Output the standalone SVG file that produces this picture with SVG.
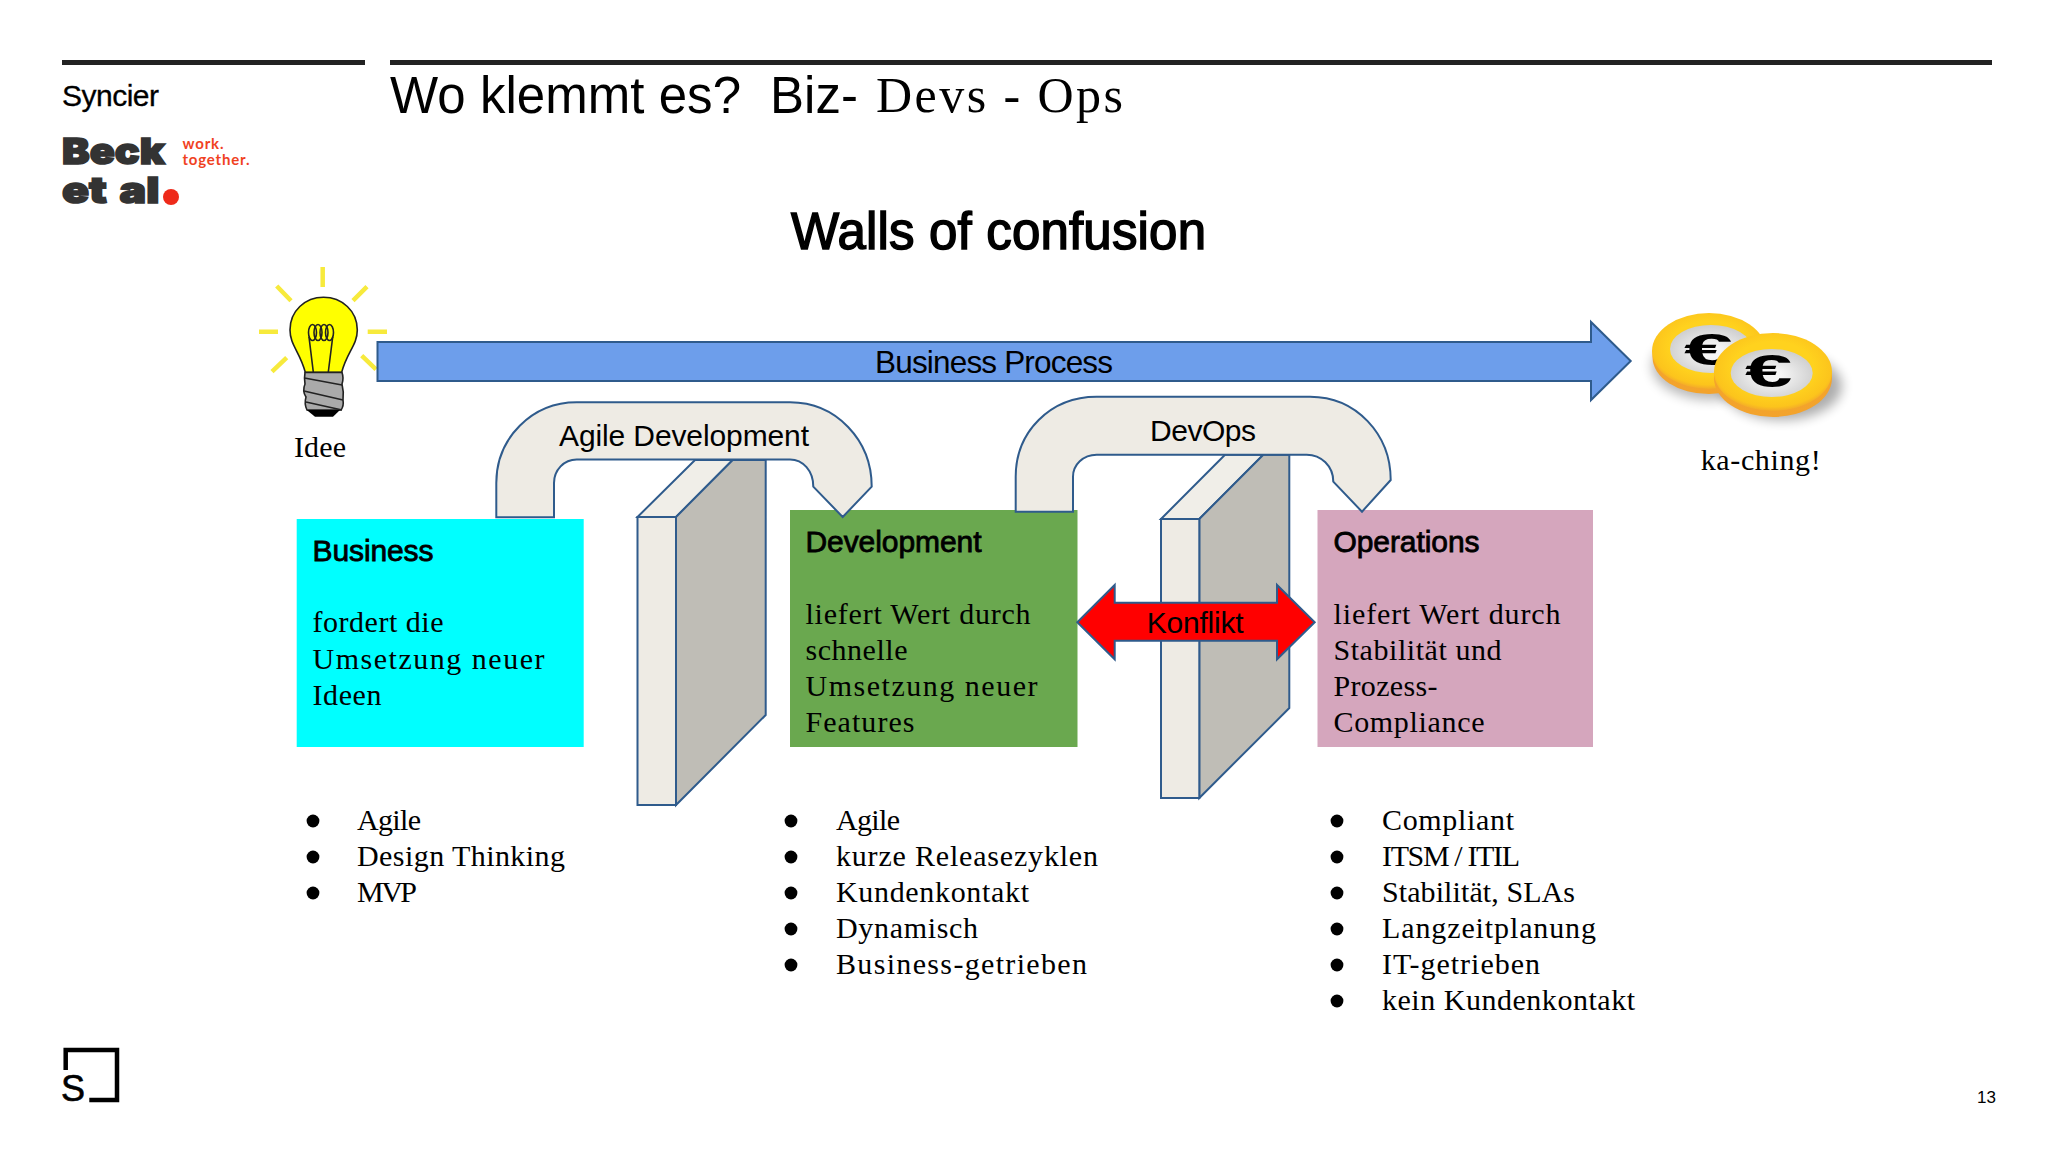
<svg xmlns="http://www.w3.org/2000/svg" width="2048" height="1152" viewBox="0 0 2048 1152">
<style>
.a{font-family:"Liberation Sans",Arial,sans-serif;fill:#000}
.s{font-family:"Liberation Serif","Times New Roman",serif;fill:#000;font-size:30px}
.h{font-size:30px;stroke:#000;stroke-width:.8}
.l{font-size:30px}
.e{stroke:#2f5b8c;stroke-width:2;stroke-linejoin:miter}
.w1{fill:#eeebe4}.w2{fill:#bfbdb6}.w3{fill:#f0eee8}
.ray{stroke:#f7ea3c;stroke-width:4.5;fill:none}
.bl{stroke:#222;stroke-width:1.6;fill:none}
.logo{font-family:Inter,Lato,sans-serif;font-weight:900;font-size:36px;fill:#333;stroke:#333;stroke-width:1.6}
</style>
<defs>
<radialGradient id="rim" cx=".5" cy=".45" r=".55"><stop offset=".62" stop-color="#ffd21e"/><stop offset=".9" stop-color="#fcc41c"/><stop offset="1" stop-color="#f3a92a"/></radialGradient>
<linearGradient id="edge" x1="0" y1="0" x2="0" y2="1"><stop offset="0" stop-color="#f5a52a"/><stop offset="1" stop-color="#f3a32c"/></linearGradient>
<radialGradient id="sil" cx=".5" cy=".55" r=".6"><stop offset=".2" stop-color="#f5f5f5"/><stop offset="1" stop-color="#c9c9c9"/></radialGradient>
<filter id="blur" x="-30%" y="-30%" width="160%" height="160%"><feGaussianBlur stdDeviation="6"/></filter>
</defs>
<rect width="2048" height="1152" fill="#fff"/>

<g id="header">
<rect x="62" y="60" width="303" height="5" fill="#222"/>
<rect x="390" y="60" width="1602" height="5" fill="#222"/>
<text class="a" x="62" y="106" font-size="30" stroke="#000" stroke-width=".3" textLength="97">Syncier</text>
<text class="a" x="390" y="113" font-size="51" textLength="351">Wo klemmt es?</text>
<text class="a" x="770" y="113" font-size="51" textLength="88">Biz-</text>
<text class="s" x="876" y="112" style="font-size:50px" textLength="247">Devs - Ops</text>
<text class="a" x="791" y="249" font-size="51" stroke="#000" stroke-width="1.5" textLength="415">Walls of confusion</text>
</g>

<g id="logo">
<text class="logo" transform="translate(62 164) scale(1.15 1)">Beck</text>
<text class="logo" transform="translate(62 203) scale(1.24 1)" word-spacing="3">et al</text>
<circle cx="171" cy="197" r="8" fill="#ee2a1a"/>
<text x="182.5" y="149" font-family="Lato,sans-serif" font-weight="700" font-size="15" fill="#f0421f" textLength="41">work.</text>
<text x="182.5" y="165" font-family="Lato,sans-serif" font-weight="700" font-size="15" fill="#f0421f" textLength="67">together.</text>
</g>

<g id="idee">
<g class="ray">
<path d="M322.7 267V287M276.7 286L291 300.7M367 286.7L353 300.7M259 331.7H278M367.7 331.7H387M286.7 357.7L272 371.7M361.7 355.7L376 369.3"/>
</g>
<path d="M305.3 372.3C300 352 290 345 290 330C290 311 305 297.3 323.5 297.3C342 297.3 357.3 311 357.3 330C357.3 345 347 352 341.7 372.3Z" fill="#ff0" stroke="#222" stroke-width="1.6"/>
<path class="bl" d="M313.3 372L309 337M328.3 372L332.7 337"/>
<g class="bl"><ellipse cx="312.5" cy="332.5" rx="4" ry="8"/><ellipse cx="318" cy="332.5" rx="4" ry="8"/><ellipse cx="324" cy="332.5" rx="4" ry="8"/><ellipse cx="329.5" cy="332.5" rx="4" ry="8"/></g>
<path d="M305 372.5H342Q344 378 342 384Q344 392 343 400Q344 406 341 410H307Q304 404 306 397Q302 391 305 384Q304 378 305 372.5Z" fill="#aaa" stroke="#222" stroke-width="1.6"/>
<path class="bl" d="M304.5 378L342 385M304 391L343 400M306 402L342 410"/>
<path d="M306.7 410H340L333 416.7H315Z" fill="#000"/>
<text class="s" x="294" y="457" textLength="52">Idee</text>
</g>

<g id="connectors">
<g id="business-process">
<path class="e" fill="#6d9eeb" d="M377.5 342H1591V322L1630.7 361L1591 400V381H377.5Z"/>
<text class="a" x="875" y="373" font-size="31.5" textLength="238">Business Process</text>
</g>
</g>

<g id="wall-1">
<path class="e w3" d="M637.5 517L695 460H732.7L676 517Z"/>
<path class="e w2" d="M676 517L732.7 460H765.7V715L676 805Z"/>
<rect class="e w1" x="637.5" y="517" width="38.5" height="288"/>
</g>
<g id="wall-2">
<path class="e w3" d="M1161 519L1225 454.7H1263.3L1199.3 519Z"/>
<path class="e w2" d="M1199.3 519L1263.3 454.7H1289.3V708L1199.3 798Z"/>
<rect class="e w1" x="1161" y="519" width="38.3" height="279"/>
</g>

<g id="business">
<rect x="296.7" y="519" width="287" height="228" fill="#0ff"/>
<text class="a h" x="312.5" y="561" textLength="121">Business</text>
<text class="s" x="312.5" y="632" textLength="131">fordert die</text>
<text class="s" x="312.5" y="669" textLength="232">Umsetzung neuer</text>
<text class="s" x="312.5" y="705" textLength="69">Ideen</text>
</g>
<g id="development">
<rect x="790" y="510" width="287.5" height="237" fill="#6aa84f"/>
<text class="a h" x="805.5" y="552" textLength="176">Development</text>
<text class="s" x="805.5" y="624" textLength="225">liefert Wert durch</text>
<text class="s" x="805.5" y="660" textLength="102">schnelle</text>
<text class="s" x="805.5" y="696" textLength="232">Umsetzung neuer</text>
<text class="s" x="805.5" y="732" textLength="109">Features</text>
</g>
<g id="operations">
<rect x="1317.5" y="510" width="275.5" height="237" fill="#d5a6bd"/>
<text class="a h" x="1333.5" y="552" textLength="146">Operations</text>
<text class="s" x="1333.5" y="624" textLength="227">liefert Wert durch</text>
<text class="s" x="1333.5" y="660" textLength="168">Stabilität und</text>
<text class="s" x="1333.5" y="696" textLength="104">Prozess-</text>
<text class="s" x="1333.5" y="732" textLength="151">Compliance</text>
</g>

<g id="agile-development">
<path class="e w1" d="M496.3 517.3V483C496.3 438 532 402.3 576.7 402.3H790C836 402.3 871.7 440 871.7 486.7L842.7 517L813.3 486.7C813.3 471 803 459.5 790 459.5H576.7C564 459.5 554 470 554 483V517.3Z"/>
<text class="a l" x="559" y="446" textLength="250">Agile Development</text>
</g>
<g id="devops">
<path class="e w1" d="M1015.7 511.7V476.7C1015.7 432 1050 396.7 1096.7 396.7H1310C1356 396.7 1390.7 434 1390.7 480L1362 511.7L1333.3 481.7C1333.3 466 1321 454.7 1306.7 454.7H1096.7C1083 454.7 1073 465 1073 476.7V511.7Z"/>
<text class="a l" x="1150" y="441" textLength="106">DevOps</text>
</g>
<g id="konflikt">
<path class="e" fill="#f00" d="M1077.3 622.3L1114.7 585V602.7H1277V585L1314.7 622.3L1277 659.3V640.7H1114.7V659.3Z"/>
<text class="a l" x="1146.7" y="633" textLength="97">Konflikt</text>
</g>

<g id="ka-ching">
<ellipse cx="1712" cy="366" rx="60" ry="34" fill="#000" opacity=".28" filter="url(#blur)"/>
<ellipse cx="1782" cy="386" rx="60" ry="34" fill="#000" opacity=".32" filter="url(#blur)"/>
<ellipse cx="1709" cy="357" rx="56.5" ry="37" fill="url(#edge)"/>
<ellipse cx="1709" cy="351" rx="57" ry="38" fill="url(#rim)"/>
<ellipse cx="1711" cy="349" rx="41" ry="24" fill="url(#sil)"/>
<text transform="translate(1684 365) scale(2 1)" font-family="Liberation Sans,sans-serif" font-weight="700" font-size="44" fill="#000">€</text>
<ellipse cx="1773" cy="378" rx="59" ry="39" fill="url(#edge)"/>
<ellipse cx="1773" cy="372" rx="59" ry="39" fill="url(#rim)"/>
<ellipse cx="1771.7" cy="373" rx="41" ry="24" fill="url(#sil)"/>
<text transform="translate(1745 387) scale(1.85 1)" font-family="Liberation Sans,sans-serif" font-weight="700" font-size="46" fill="#000">€</text>
<text class="s" x="1700.7" y="470" textLength="120">ka-ching!</text>
</g>

<g id="list-business">
<circle cx="313" cy="821" r="6.4"/><circle cx="313" cy="857" r="6.4"/><circle cx="313" cy="893" r="6.4"/>
<text class="s" x="357" y="830" textLength="64">Agile</text>
<text class="s" x="357" y="866" textLength="208">Design Thinking</text>
<text class="s" x="357" y="902" textLength="60">MVP</text>
</g>
<g id="list-development">
<circle cx="791" cy="821" r="6.4"/><circle cx="791" cy="857" r="6.4"/><circle cx="791" cy="893" r="6.4"/><circle cx="791" cy="929" r="6.4"/><circle cx="791" cy="965" r="6.4"/>
<text class="s" x="836" y="830" textLength="64">Agile</text>
<text class="s" x="836" y="866" textLength="262">kurze Releasezyklen</text>
<text class="s" x="836" y="902" textLength="193">Kundenkontakt</text>
<text class="s" x="836" y="938" textLength="142">Dynamisch</text>
<text class="s" x="836" y="974" textLength="251">Business-getrieben</text>
</g>
<g id="list-operations">
<circle cx="1337" cy="821" r="6.4"/><circle cx="1337" cy="857" r="6.4"/><circle cx="1337" cy="893" r="6.4"/><circle cx="1337" cy="929" r="6.4"/><circle cx="1337" cy="965" r="6.4"/><circle cx="1337" cy="1001" r="6.4"/>
<text class="s" x="1382" y="830" textLength="132">Compliant</text>
<text class="s" x="1382" y="866" textLength="138">ITSM / ITIL</text>
<text class="s" x="1382" y="902" textLength="193">Stabilität, SLAs</text>
<text class="s" x="1382" y="938" textLength="214">Langzeitplanung</text>
<text class="s" x="1382" y="974" textLength="158">IT-getrieben</text>
<text class="s" x="1382" y="1010" textLength="253">kein Kundenkontakt</text>
</g>

<g id="footer">
<path d="M65.7 1070V1050H117V1100H89.3" fill="none" stroke="#000" stroke-width="4.5"/>
<text class="a" x="61" y="1101" font-size="36" stroke="#000" stroke-width=".6">S</text>
<text class="a" x="1977" y="1103" font-size="17">13</text>
</g>
</svg>
